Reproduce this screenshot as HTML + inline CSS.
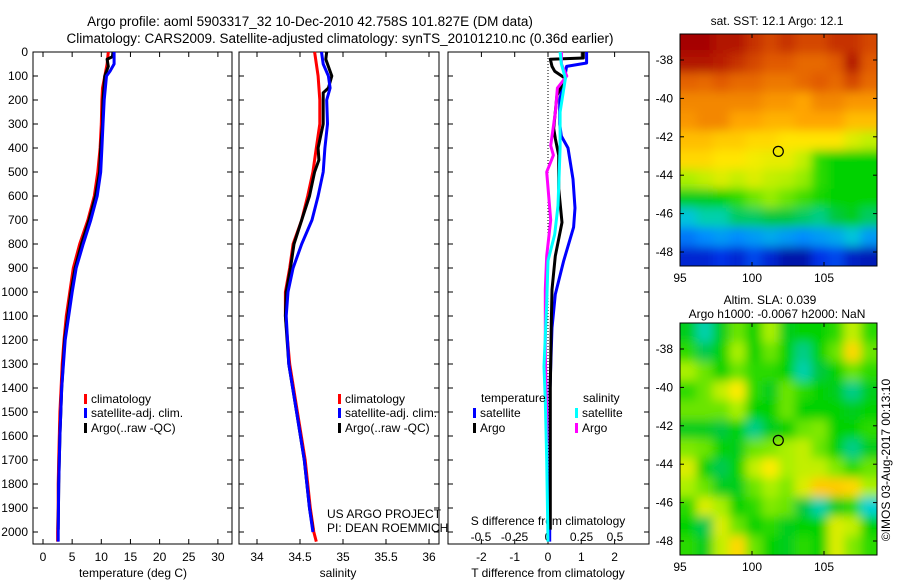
<!DOCTYPE html>
<html><head><meta charset="utf-8"><style>
html,body{margin:0;padding:0;background:#fff;}
svg{display:block;font-family:"Liberation Sans",sans-serif;}
</style></head><body>
<svg id="fig" width="900" height="580" viewBox="0 0 900 580">
<text x="310" y="26" font-size="13.5" text-anchor="middle">Argo profile: aoml 5903317_32 10-Dec-2010 42.758S 101.827E (DM data)</text>
<text x="340" y="43" font-size="13.5" text-anchor="middle">Climatology: CARS2009. Satellite-adjusted climatology: synTS_20101210.nc (0.36d earlier)</text>
<g id="g1"></g>
<g id="g2"></g>
<g id="g3"></g>
<g id="m1"></g>
<g id="m2"></g>
<text transform="translate(890,460) rotate(-90)" font-size="12" text-anchor="middle">©IMOS 03-Aug-2017 00:13:10</text>
</svg>
<script>
// ---- data ----
const depthTicks=[0,100,200,300,400,500,600,700,800,900,1000,1100,1200,1300,1400,1500,1600,1700,1800,1900,2000];
const tTicks=[0,5,10,15,20,25,30];
const sTicks=[34,34.5,35,35.5,36];
const dTTicks=[-2,-1,0,1,2];
const dSTicks=[-0.5,-0.25,0,0.25,0.5];
const dSLabels=['-0.5','-0.25','0','0.25','0.5'];
const tClimDepth=[0,50,100,150,200,300,400,500,600,700,800,900,1000,1100,1200,1300,1400,1500,1600,1700,1800,1900,2000,2040];
const tClim=[11.2,11,10.6,10.2,10.1,10.0,9.8,9.4,8.8,7.7,6.3,5.2,4.6,4.0,3.6,3.3,3.1,2.9,2.8,2.7,2.6,2.6,2.5,2.5];
const tSatDepth=[0,50,80,100,200,300,400,500,600,700,800,900,1000,1200,1400,1600,1800,2000,2040];
const tSat=[12.2,12.2,11.5,10.9,10.5,10.3,10.1,9.9,9.3,8.2,6.9,5.7,5.0,3.8,3.2,2.9,2.7,2.6,2.6];
const tArgoDepth=[0,20,30,60,100,200,300,400,500,600,700,800,900,1000,1200,1400,1600,1800,1990];
const tArgo=[12,11.9,11.0,11.2,10.6,10.3,10.2,9.9,9.7,9.0,7.9,6.6,5.5,4.8,3.7,3.2,2.9,2.7,2.6];
const sClimDepth=[0,100,200,300,400,500,600,700,800,900,1000,1100,1300,1500,1700,1900,2000,2040];
const sClim=[34.67,34.71,34.73,34.73,34.69,34.65,34.59,34.52,34.42,34.38,34.33,34.33,34.38,34.47,34.56,34.62,34.66,34.69];
const sSatDepth=[0,50,100,150,200,300,400,500,600,700,800,900,1000,1100,1300,1500,1700,1900,2000];
const sSat=[34.75,34.77,34.83,34.85,34.81,34.82,34.79,34.77,34.71,34.64,34.52,34.42,34.36,34.34,34.37,34.46,34.55,34.61,34.65];
const sArgoDepth=[0,30,50,100,150,170,300,400,450,500,600,700,800,900,1000,1100,1300,1500,1700,1900,1990];
const sArgo=[34.81,34.80,34.82,34.87,34.83,34.77,34.77,34.71,34.72,34.67,34.61,34.52,34.43,34.39,34.34,34.33,34.37,34.46,34.55,34.61,34.65];
const dTSatDepth=[0,46,60,110,200,300,350,400,530,650,730,870,1010,1150,1400,2040];
const dTSat=[1.16,1.16,0.56,0.5,0.35,0.35,0.4,0.6,0.75,0.81,0.77,0.47,0.22,0.12,0.06,0.05];
const dTArgoDepth=[0,25,30,60,80,110,180,250,318,360,430,570,710,850,990,1130,1400,1990];
const dTArgo=[1.06,1.06,0.07,0.12,0.2,0.52,0.27,0.22,0.17,0.22,0.32,0.32,0.42,0.22,0.12,0.1,0.07,0.07];
const dSSatDepth=[0,50,110,250,400,640,760,870,1050,1310,1450,1700,2040];
const dSSat=[0.09,0.1,0.13,0.09,0.09,0.075,0.05,0.0,-0.01,-0.03,-0.02,-0.01,0.0];
const dSArgoDepth=[0,50,100,150,250,390,430,500,700,850,990,1260,1500,1630];
const dSArgo=[0.1,0.1,0.14,0.07,0.055,0.02,0.04,-0.01,0.02,-0.01,-0.02,-0.02,-0.01,-0.01];
const sstGrid=[
[.95,.95,.93,.93,.9,.88,.9,.88,.88,.9,.9,.88],
[.93,.93,.92,.9,.88,.86,.86,.84,.84,.86,.93,.86],
[.85,.84,.86,.84,.84,.82,.82,.84,.86,.84,.88,.84],
[.80,.80,.80,.80,.80,.78,.78,.76,.80,.80,.78,.78],
[.78,.80,.80,.76,.76,.74,.74,.76,.76,.76,.72,.72],
[.72,.72,.70,.70,.68,.68,.66,.66,.66,.66,.62,.60],
[.68,.68,.66,.66,.64,.63,.63,.60,.52,.50,.50,.50],
[.58,.60,.62,.60,.62,.60,.59,.57,.52,.50,.50,.50],
[.48,.48,.50,.52,.55,.57,.55,.53,.51,.50,.50,.50],
[.36,.40,.40,.44,.44,.46,.46,.44,.42,.46,.48,.44],
[.25,.28,.30,.28,.30,.32,.30,.28,.30,.32,.36,.30],
[.12,.12,.15,.12,.18,.12,.06,.06,.15,.18,.10,.08]];
const slaGrid=[
[.48,.40,.48,.55,.50,.58,.48,.50,.50,.52,.60,.52],
[.52,.45,.50,.58,.50,.55,.50,.42,.50,.55,.68,.55],
[.58,.55,.50,.55,.52,.52,.50,.40,.46,.50,.55,.52],
[.52,.55,.60,.65,.52,.48,.55,.52,.50,.48,.42,.48],
[.55,.55,.55,.58,.50,.50,.55,.50,.50,.50,.48,.50],
[.48,.48,.46,.50,.42,.48,.50,.55,.56,.50,.50,.52],
[.56,.55,.50,.48,.55,.56,.58,.60,.55,.50,.42,.48],
[.62,.50,.45,.50,.60,.65,.58,.60,.60,.56,.52,.55],
[.58,.55,.48,.48,.55,.58,.56,.62,.70,.70,.68,.58],
[.52,.62,.58,.50,.52,.56,.55,.46,.40,.48,.52,.38],
[.50,.45,.62,.55,.50,.52,.48,.50,.50,.62,.60,.50],
[.52,.48,.60,.68,.55,.50,.48,.52,.50,.62,.56,.52]];
const lonTicks=[95,100,105];
const latTicks=[-38,-40,-42,-44,-46,-48];
const floatLon=101.827, floatLat=-42.758;

// ---- helpers ----
const NS='http://www.w3.org/2000/svg';
function mk(parent,tag,attrs,txt){const e=document.createElementNS(NS,tag);for(const k in attrs)e.setAttribute(k,attrs[k]);if(txt!==undefined)e.textContent=txt;parent.appendChild(e);return e;}
const yTop=52,yBot=544;
const yD=d=>52+d*0.24;
function frame(g,x0,x1){
  const r=mk(g,'rect',{x:x0,y:yTop,width:x1-x0,height:yBot-yTop,fill:'none',stroke:'#000','stroke-width':1});
  
  
  depthTicks.forEach(d=>{const y=yD(d);
    mk(g,'line',{x1:x0,x2:x0+5,y1:y,y2:y,stroke:'#000'});
    mk(g,'line',{x1:x1-5,x2:x1,y1:y,y2:y,stroke:'#000'});});
}
function line(g,xs,ds,fx,color,name,w){
  const pts=xs.map((v,i)=>fx(v).toFixed(1)+','+yD(ds[i]).toFixed(1)).join(' ');
  const p=mk(g,'polyline',{points:pts,fill:'none',stroke:color,'stroke-width':w||3,'stroke-linejoin':'round'});
  
  
}
function legendEntry(g,x,y,color,label){
  const e=mk(g,'g',{});
  
  
  mk(e,'rect',{x:x,y:y-8,width:3,height:10,fill:color});
  mk(e,'text',{x:x+7,y:y+1,'font-size':12},label);
}
// ---- panel 1 temperature ----
const g1=document.getElementById('g1');
const fT=t=>43+t*5.83;
frame(g1,33,232);
depthTicks.forEach(d=>{const t=mk(g1,'text',{x:28,y:yD(d)+4,'font-size':12,'text-anchor':'end'},String(d));
  });
tTicks.forEach(v=>{const x=fT(v);mk(g1,'line',{x1:x,x2:x,y1:yBot-5,y2:yBot,stroke:'#000'});mk(g1,'line',{x1:x,x2:x,y1:yTop,y2:yTop+5,stroke:'#000'});
  const t=mk(g1,'text',{x:x,y:561,'font-size':12,'text-anchor':'middle'},String(v));});
const xt1=mk(g1,'text',{x:133,y:577,'font-size':12,'text-anchor':'middle'},'temperature (deg C)');

line(g1,tClim,tClimDepth,fT,'#f00','temp-climatology-line');
line(g1,tArgo,tArgoDepth,fT,'#000','temp-argo-line');
line(g1,tSat,tSatDepth,fT,'#00f','temp-satellite-line');
legendEntry(g1,84,402,'#f00','climatology');
legendEntry(g1,84,416,'#00f','satellite-adj. clim.');
legendEntry(g1,84,431,'#000','Argo(..raw -QC)');
// ---- panel 2 salinity ----
const g2=document.getElementById('g2');
const fS=s=>257+(s-34)*86;
frame(g2,239,439);
sTicks.forEach(v=>{const x=fS(v);mk(g2,'line',{x1:x,x2:x,y1:yBot-5,y2:yBot,stroke:'#000'});mk(g2,'line',{x1:x,x2:x,y1:yTop,y2:yTop+5,stroke:'#000'});
  const t=mk(g2,'text',{x:x,y:561,'font-size':12,'text-anchor':'middle'},String(v));});
const xt2=mk(g2,'text',{x:338,y:577,'font-size':12,'text-anchor':'middle'},'salinity');

line(g2,sClim,sClimDepth,fS,'#f00','sal-climatology-line');
line(g2,sArgo,sArgoDepth,fS,'#000','sal-argo-line');
line(g2,sSat,sSatDepth,fS,'#00f','sal-satellite-line');
legendEntry(g2,338,402,'#f00','climatology');
legendEntry(g2,338,416,'#00f','satellite-adj. clim.');
legendEntry(g2,338,431,'#000','Argo(..raw -QC)');
const pj=mk(g2,'text',{x:327,y:518,'font-size':12},'US ARGO PROJECT');

const pi=mk(g2,'text',{x:327,y:532,'font-size':12},'PI: DEAN ROEMMICH');

// ---- panel 3 differences ----
const g3=document.getElementById('g3');
const fdT=v=>548+v*33.3;
const fdS=v=>548+v*134;
frame(g3,448,649);
mk(g3,'line',{x1:548,x2:548,y1:yTop,y2:yBot,stroke:'#000','stroke-dasharray':'1,2'});
dTTicks.forEach(v=>{const x=fdT(v);mk(g3,'line',{x1:x,x2:x,y1:yBot-5,y2:yBot,stroke:'#000'});mk(g3,'line',{x1:x,x2:x,y1:yTop,y2:yTop+5,stroke:'#000'});
  const t=mk(g3,'text',{x:x,y:561,'font-size':12,'text-anchor':'middle'},String(v));});
dSTicks.forEach((v,i)=>{const t=mk(g3,'text',{x:fdS(v),y:541,'font-size':12,'text-anchor':'middle'},dSLabels[i]);});
const xs3=mk(g3,'text',{x:548,y:525,'font-size':12,'text-anchor':'middle'},'S difference from climatology');

const xt3=mk(g3,'text',{x:548,y:577,'font-size':12,'text-anchor':'middle'},'T difference from climatology');

line(g3,dTSat,dTSatDepth,fdT,'#00f','t-diff-satellite-line');
line(g3,dTArgo,dTArgoDepth,fdT,'#000','t-diff-argo-line');
line(g3,dSArgo,dSArgoDepth,fdS,'#f0f','s-diff-argo-line');
line(g3,dSSat,dSSatDepth,fdS,'#0ff','s-diff-satellite-line');
const lt=mk(g3,'text',{x:481,y:402,'font-size':12},'temperature');
const ls=mk(g3,'text',{x:583,y:402,'font-size':12},'salinity');
legendEntry(g3,473,416,'#00f','satellite');
legendEntry(g3,473,431,'#000','Argo');
legendEntry(g3,575,416,'#0ff','satellite');
legendEntry(g3,575,431,'#f0f','Argo');
// ---- maps ----
const cStops=[[0,[0,0,130]],[0.15,[0,50,230]],[0.28,[0,140,255]],[0.38,[0,210,210]],[0.46,[0,200,60]],[0.5,[0,210,0]],[0.58,[170,240,0]],[0.65,[255,235,0]],[0.76,[255,165,0]],[0.86,[225,90,0]],[0.95,[165,0,0]],[1,[140,0,0]]];
function cmap(v){for(let i=1;i<cStops.length;i++){if(v<=cStops[i][0]){const a=cStops[i-1],b=cStops[i];const t=(v-a[0])/(b[0]-a[0]);const c=a[1].map((x,k)=>Math.round(x+(b[1][k]-x)*t));return `rgb(${c[0]},${c[1]},${c[2]})`;}}return 'rgb(140,0,0)';}
const svg=document.getElementById('fig');
const defs=mk(svg,'defs',{});
const flt=mk(defs,'filter',{id:'blur',x:'-5%',y:'-5%',width:'110%',height:'110%'});
mk(flt,'feGaussianBlur',{stdDeviation:5});
function map(gid,grid,y0,title1,title2,idx){
  const g=document.getElementById(gid);
  const x0=680,x1=877,y1=y0+232;
  const fx=lon=>680+(lon-95)*14.4;
  const fy=lat=>y0+26+(-38-lat)*19.2;
  const cp=mk(defs,'clipPath',{id:'cp'+idx});mk(cp,'rect',{x:x0,y:y0,width:x1-x0,height:y1-y0});
  const cg=mk(g,'g',{'clip-path':`url(#cp${idx})`});
  const ig=mk(cg,'g',{filter:'url(#blur)'});
  const nr=grid.length,nc=grid[0].length,cw=(x1-x0)/nc,ch=(y1-y0)/nr;
  grid.forEach((row,i)=>row.forEach((v,j)=>{
    let rx=x0+j*cw,ry=y0+i*ch,rw=cw+0.5,rh=ch+0.5;
    if(j===0){rx-=15;rw+=15;} if(j===nc-1){rw+=15;}
    if(i===0){ry-=15;rh+=15;} if(i===nr-1){rh+=15;}
    const c=mk(ig,'rect',{x:rx,y:ry,width:rw,height:rh,fill:cmap(v)});
    
    
  }));
  const fr=mk(g,'rect',{x:x0,y:y0,width:x1-x0,height:y1-y0,fill:'none',stroke:'#000'});
  
  lonTicks.forEach(l=>{const x=fx(l);mk(g,'line',{x1:x,x2:x,y1:y0,y2:y0+4,stroke:'#000'});mk(g,'line',{x1:x,x2:x,y1:y1-4,y2:y1,stroke:'#000'});
    const t=mk(g,'text',{x:x,y:y1+16,'font-size':12,'text-anchor':'middle'},String(l));});
  latTicks.forEach(l=>{const y=fy(l);mk(g,'line',{x1:x0,x2:x0+4,y1:y,y2:y,stroke:'#000'});mk(g,'line',{x1:x1-4,x2:x1,y1:y,y2:y,stroke:'#000'});
    const t=mk(g,'text',{x:673,y:y+4,'font-size':12,'text-anchor':'end'},String(l));});
  const c=mk(g,'circle',{cx:fx(floatLon),cy:fy(floatLat),r:5,fill:'none',stroke:'#000','stroke-width':1.2});
  
  const t1=mk(g,'text',{x:title2?770:777,y:title2?y0-19:y0-9,'font-size':12,'text-anchor':'middle'},title1);
  
  if(title2){const t2=mk(g,'text',{x:777,y:y0-5,'font-size':12,'text-anchor':'middle'},title2);}
}
map('m1',sstGrid,34,'sat. SST: 12.1 Argo: 12.1',null,1);
map('m2',slaGrid,323,'Altim. SLA: 0.039','Argo h1000: -0.0067 h2000: NaN',2);
</script>
</body></html>
